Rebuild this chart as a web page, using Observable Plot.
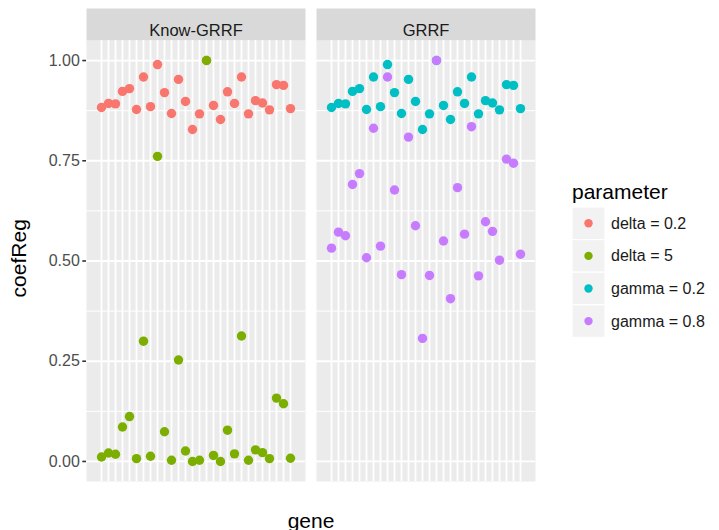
<!DOCTYPE html>
<html>
<head>
<meta charset="utf-8">
<script src="https://cdn.jsdelivr.net/npm/d3@7"></script>
<script src="https://cdn.jsdelivr.net/npm/@observablehq/plot@0.6"></script>
<style>
  html, body { margin: 0; padding: 0; background: #ffffff; }
  #chart { width: 719px; height: 530px; }
</style>
</head>
<body>
<div id="chart"></div>
<script>
// Regression coefficients per gene, for two methods and two parameter settings each.
const panels = ["Know-GRRF", "GRRF"];
const parameters = ["delta = 0.2", "delta = 5", "gamma = 0.2", "gamma = 0.8"];
const paramColors = ["#F8766D", "#7CAE00", "#00BFC4", "#C77CFF"];
const yTicks = [0, 0.25, 0.5, 0.75, 1];
const yMinor = [0.125, 0.375, 0.625, 0.875];

const genes = [
  "G01", "G02", "G03", "G04", "G05", "G06", "G07", "G08", "G09", "G10",
  "G11", "G12", "G13", "G14", "G15", "G16", "G17", "G18", "G19", "G20",
  "G21", "G22", "G23", "G24", "G25", "G26", "G27", "G28"
];

// Know-GRRF, delta = 0.2
const knowDelta02 = [
  0.883, 0.893, 0.892, 0.923, 0.930, 0.878, 0.959, 0.885, 0.990, 0.920,
  0.868, 0.953, 0.898, 0.828, 0.867, 1.000, 0.888, 0.853, 0.922, 0.893,
  0.959, 0.867, 0.900, 0.894, 0.877, 0.940, 0.938, 0.880
];
// Know-GRRF, delta = 5
const knowDelta5 = [
  0.011, 0.021, 0.018, 0.086, 0.112, 0.007, 0.300, 0.013, 0.761, 0.074,
  0.003, 0.253, 0.026, 0.000, 0.003, 1.000, 0.015, 0.000, 0.078, 0.019,
  0.313, 0.003, 0.029, 0.022, 0.007, 0.158, 0.144, 0.008
];
// GRRF, gamma = 0.2
const grrfGamma02 = [
  0.883, 0.893, 0.892, 0.923, 0.930, 0.878, 0.959, 0.885, 0.990, 0.920,
  0.868, 0.953, 0.898, 0.828, 0.867, 1.000, 0.888, 0.853, 0.922, 0.893,
  0.959, 0.867, 0.900, 0.894, 0.877, 0.940, 0.938, 0.880
];
// GRRF, gamma = 0.8
const grrfGamma08 = [
  0.532, 0.572, 0.563, 0.691, 0.718, 0.508, 0.831, 0.537, 0.959, 0.677,
  0.466, 0.809, 0.588, 0.307, 0.464, 1.000, 0.550, 0.406, 0.683, 0.567,
  0.835, 0.463, 0.598, 0.574, 0.502, 0.754, 0.744, 0.517
];

// Long-format rows, in drawing order (later series paint over earlier ones).
const series = [
  {panel: panels[0], parameter: parameters[0], values: knowDelta02},
  {panel: panels[0], parameter: parameters[1], values: knowDelta5},
  {panel: panels[1], parameter: parameters[2], values: grrfGamma02},
  {panel: panels[1], parameter: parameters[3], values: grrfGamma08}
];
const rows = series.flatMap(s =>
  s.values.map((v, i) => ({panel: s.panel, parameter: s.parameter, gene: genes[i], coefReg: v}))
);

const W = 719, H = 530;
const margin = {top: 40, right: 183, bottom: 49, left: 86};
const panelHeight = H - margin.top - margin.bottom;
const stripHeight = 32;
const font = "'Liberation Sans', Arial, Helvetica, sans-serif";

const chart = Plot.plot({
  width: W,
  height: H,
  marginTop: margin.top,
  marginRight: margin.right,
  marginBottom: margin.bottom,
  marginLeft: margin.left,
  style: {fontFamily: font, background: "#ffffff", overflow: "visible"},
  fx: {domain: panels, paddingInner: 0.047, paddingOuter: 0, axis: null, label: null},
  x: {type: "point", domain: genes, padding: 0.6, axis: null},
  y: {domain: [-0.05, 1.05], axis: null},
  color: {domain: parameters, range: paramColors},
  marks: [
    // panel background
    Plot.frame({fill: "#EBEBEB", stroke: "none"}),
    // strip above each panel
    Plot.frame({fill: "#D9D9D9", stroke: "none", insetTop: -stripHeight, insetBottom: panelHeight}),
    Plot.text(panels, {fx: d => d, text: d => d, frameAnchor: "top", dy: -stripHeight / 2,
      fontSize: 16.5, fill: "#1A1A1A"}),
    // grid
    Plot.gridY(yMinor, {stroke: "#FFFFFF", strokeOpacity: 1, strokeWidth: 1}),
    Plot.gridY(yTicks, {stroke: "#FFFFFF", strokeOpacity: 1, strokeWidth: 1.8}),
    Plot.gridX(genes, {stroke: "#FFFFFF", strokeOpacity: 1, strokeWidth: 1.8}),
    // y axis (left panel only)
    Plot.axisY(yTicks, {
      tickFormat: d3.format(".2f"), tickSize: 3.7, tickPadding: 3,
      stroke: "#333333", strokeWidth: 1.6, fill: "#4D4D4D", fontSize: 16, label: null
    }),
    // points
    Plot.dot(rows, {fx: "panel", x: "gene", y: "coefReg", fill: "parameter", r: 4.7, stroke: "none"})
  ]
});

document.getElementById("chart").appendChild(chart);

// Axis titles and legend, placed in the same SVG.
const svg = d3.select(chart);
const color = chart.scale("color");
const left = margin.left, right = W - margin.right;

svg.append("text")
  .attr("transform", `translate(18.5, ${margin.top + panelHeight * 0.495}) rotate(-90)`)
  .attr("text-anchor", "middle")
  .attr("dominant-baseline", "central")
  .attr("font-family", font)
  .attr("font-size", 21)
  .attr("fill", "#000000")
  .text("coefReg");

svg.append("text")
  .attr("x", (left + right) / 2)
  .attr("y", 527.5)
  .attr("text-anchor", "middle")
  .attr("font-family", font)
  .attr("font-size", 21)
  .attr("fill", "#000000")
  .text("gene");

const legend = svg.append("g")
  .attr("font-family", font)
  .attr("text-anchor", "start");
legend.append("text")
  .attr("x", 572)
  .attr("y", 199)
  .attr("text-anchor", "start")
  .attr("font-size", 21)
  .attr("fill", "#000000")
  .text("parameter");

const keyTop = 207, keyH = 32.6, keyW = 33;
parameters.forEach((p, i) => {
  const y0 = keyTop + i * keyH;
  legend.append("rect")
    .attr("x", 572).attr("y", y0)
    .attr("width", keyW).attr("height", keyH)
    .attr("fill", "#F2F2F2").attr("stroke", "#FFFFFF").attr("stroke-width", 1.2);
  legend.append("circle")
    .attr("cx", 572 + keyW / 2).attr("cy", y0 + keyH / 2)
    .attr("r", 4.2)
    .attr("fill", color.apply(p));
  legend.append("text")
    .attr("x", 611).attr("y", y0 + keyH / 2)
    .attr("text-anchor", "start")
    .attr("dominant-baseline", "central")
    .attr("font-size", 16)
    .attr("fill", "#1A1A1A")
    .text(p);
});
</script>
</body>
</html>
